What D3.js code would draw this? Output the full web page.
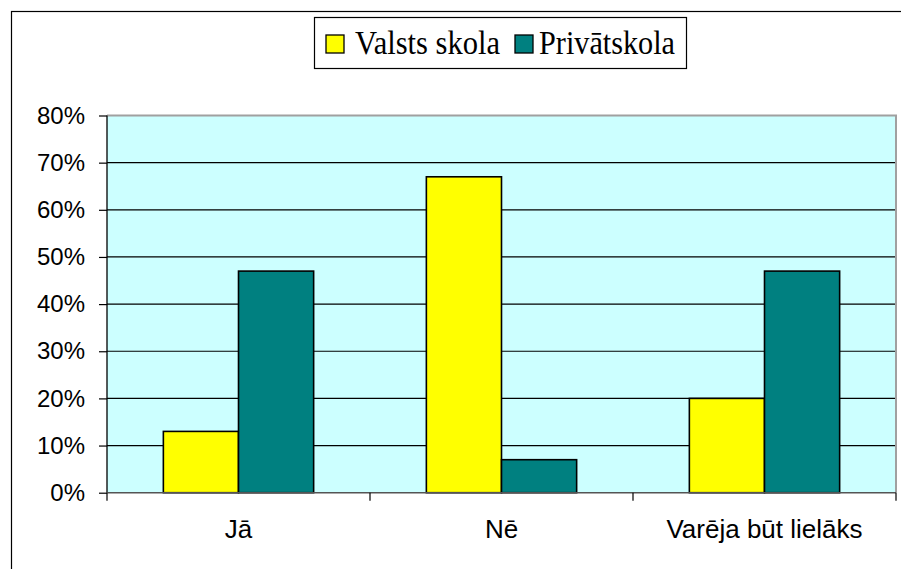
<!DOCTYPE html>
<html>
<head>
<meta charset="utf-8">
<script src="https://cdn.jsdelivr.net/npm/d3@7"></script>
<style>
  body { margin: 0; background: #fff; }
</style>
</head>
<body>
<script>
var width = 901, height = 569;

var categories = ["Jā", "Nē", "Varēja būt lielāks"];
var series = ["Valsts skola", "Privātskola"];
var valsts = [13, 67, 20];
var privat = [47, 7, 47];
var yTicks = [0, 10, 20, 30, 40, 50, 60, 70, 80];
var colors = ["#ffff00", "#008080"];

var plot = { left: 107, right: 896, top: 115.5, bottom: 492.7 };

var svg = d3.select("body")
    .append("svg")
    .attr("width", width)
    .attr("height", height);

// outer chart frame
svg.append("rect")
    .attr("x", 11.5).attr("y", 11.5)
    .attr("width", 920).attr("height", 600)
    .attr("fill", "#fff")
    .attr("stroke", "#000")
    .attr("stroke-width", 1.2);

var y = d3.scaleLinear()
    .domain([0, 80])
    .range([plot.bottom, plot.top]);

var x0 = d3.scaleBand()
    .domain(categories)
    .range([plot.left, plot.right])
    .padding(0);

var x1 = d3.scaleBand()
    .domain(series)
    .range([0, x0.bandwidth()])
    .paddingInner(0)
    .paddingOuter(0.75);

// plot background
svg.append("rect")
    .attr("x", plot.left).attr("y", plot.top)
    .attr("width", plot.right - plot.left)
    .attr("height", plot.bottom - plot.top)
    .attr("fill", "#ccffff");

// gridlines
svg.append("g")
    .selectAll("line")
    .data(yTicks.filter(function(d) { return d > 0 && d < 80; }))
    .enter()
    .append("line")
    .attr("x1", plot.left).attr("x2", plot.right)
    .attr("y1", function(d) { return y(d); })
    .attr("y2", function(d) { return y(d); })
    .attr("stroke", "#000")
    .attr("stroke-width", 1.2);

// plot border top/right (gray)
svg.append("path")
    .attr("d", "M" + plot.left + "," + plot.top + "H" + plot.right + "V" + plot.bottom)
    .attr("fill", "none")
    .attr("stroke", "#a0a0a0")
    .attr("stroke-width", 2);

// bars
var rows = categories.map(function(c, i) {
    return { cat: c, vals: [valsts[i], privat[i]] };
});

var groups = svg.append("g")
    .selectAll("g")
    .data(rows)
    .enter()
    .append("g")
    .attr("transform", function(d) { return "translate(" + x0(d.cat) + ",0)"; });

groups.selectAll("rect")
    .data(function(d) {
        return d.vals.map(function(v, j) { return { s: series[j], v: v, j: j }; });
    })
    .enter()
    .append("rect")
    .attr("x", function(d) { return x1(d.s); })
    .attr("y", function(d) { return y(d.v); })
    .attr("width", x1.bandwidth())
    .attr("height", function(d) { return y(0) - y(d.v); })
    .attr("fill", function(d) { return colors[d.j]; })
    .attr("stroke", "#000")
    .attr("stroke-width", 1.6);

// y axis
var yAxis = svg.append("g")
    .attr("transform", "translate(" + plot.left + ",0)")
    .call(d3.axisLeft(y)
        .tickValues(yTicks)
        .tickSize(8)
        .tickPadding(14)
        .tickFormat(function(d) { return d + "%"; }));
yAxis.select(".domain").attr("stroke", "#000").attr("stroke-width", 1.3)
    .attr("d", "M0," + plot.top + "V" + plot.bottom);
yAxis.selectAll(".tick line").attr("stroke", "#000").attr("stroke-width", 1.2);
yAxis.selectAll(".tick text")
    .attr("fill", "#000")
    .style("font-family", "'Liberation Sans', Arial, sans-serif")
    .style("font-size", "24px");

// x axis
var xAxis = svg.append("g")
    .attr("transform", "translate(0," + plot.bottom + ")");
xAxis.append("line")
    .attr("x1", plot.left).attr("x2", plot.right)
    .attr("stroke", "#555").attr("stroke-width", 1.5);
xAxis.selectAll(".sep")
    .data(categories.map(function(c) { return x0(c); }).concat([plot.right]))
    .enter()
    .append("line")
    .attr("class", "sep")
    .attr("x1", function(d) { return d; }).attr("x2", function(d) { return d; })
    .attr("y1", 0).attr("y2", 8)
    .attr("stroke", "#000").attr("stroke-width", 1.2);
xAxis.selectAll("text")
    .data(categories)
    .enter()
    .append("text")
    .attr("x", function(d) { return x0(d) + x0.bandwidth() / 2; })
    .attr("y", 45.5)
    .attr("text-anchor", "middle")
    .style("font-family", "'Liberation Sans', Arial, sans-serif")
    .style("font-size", "26px")
    .text(function(d) { return d; });

// legend
var legend = svg.append("g");
legend.append("rect")
    .attr("x", 314.5).attr("y", 17.5)
    .attr("width", 372).attr("height", 51)
    .attr("fill", "#fff")
    .attr("stroke", "#000")
    .attr("stroke-width", 1.2);

var legendPos = [
    { sw: 326, tx: 355, tw: 145 },
    { sw: 515, tx: 539, tw: 136 }
];
series.forEach(function(s, i) {
    legend.append("rect")
        .attr("x", legendPos[i].sw).attr("y", 35)
        .attr("width", 18).attr("height", 18)
        .attr("fill", colors[i])
        .attr("stroke", "#000")
        .attr("stroke-width", 1.3);
    legend.append("text")
        .attr("x", legendPos[i].tx)
        .attr("y", 53.5)
        .attr("textLength", legendPos[i].tw)
        .attr("lengthAdjust", "spacingAndGlyphs")
        .style("font-family", "'Liberation Serif', 'Times New Roman', serif")
        .style("font-size", "33px")
        .text(s);
});
</script>
</body>
</html>
